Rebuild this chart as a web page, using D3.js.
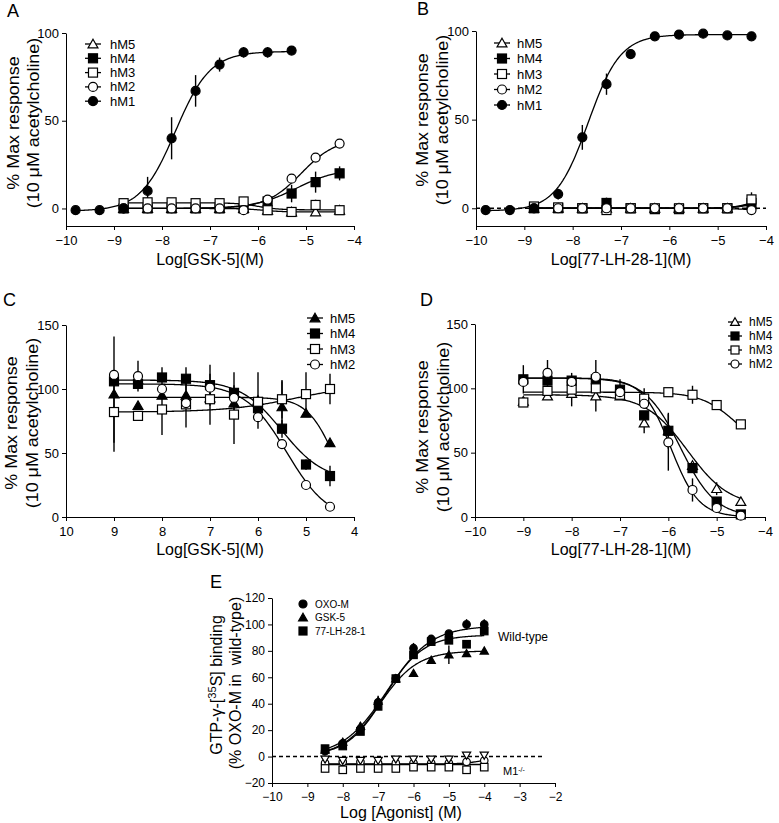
<!DOCTYPE html>
<html><head><meta charset="utf-8">
<script src="https://cdn.jsdelivr.net/npm/d3@7"></script>
<style>
body{margin:0;background:#fff}
svg{display:block}
text{font-family:'Liberation Sans',Arial,Helvetica,sans-serif;fill:#000}
</style>
</head><body>
<svg id="chart" width="779" height="823"></svg>
<script>
// ---------------- DATA ----------------
// Panel A : agonist GSK-5
const xA_M1 = [-9.8,-9.3,-8.8,-8.3,-7.8,-7.3,-6.8,-6.3,-5.8,-5.3];
const A_hM1 = [-1,-1,0,10,40,67,82,89,89,90];
const A_hM1_err = [0,0,0,8,12,9,4,3,3,1];
const xA = [-8.8,-8.3,-7.8,-7.3,-6.8,-6.3,-5.8,-5.3,-4.8,-4.3];
const A_hM2 = [0,0,0,0,0,-1,5,17,29,37];
const A_hM3 = [3,3.5,3.5,3,3,4,-1,-2,2,-1];
const A_hM3_err = [0,0,1,0,0,1,0,1,3,0];
const A_hM4 = [0,0,0,0,0,0,4,8.5,15,20];
const A_hM4_err = [0,0,0,0,0,0,0,5,6,4];
const A_hM5 = [0,0,0,0,0,0,-1,-2,-2,-1];
// fit parameters [value at low conc, value at high conc, logEC50, slope]
const fitA_hM1 = [-1.5,89.5,-7.72,1.2];
const fitA_hM2 = [0,40,-5.1,1.2];
const fitA_hM3 = [3.2,-0.8,-6.0,2];
const fitA_hM4 = [0,23,-5.2,1.0];
const fitA_hM5 = [0,-2,-5.9,2];

// Panel B : agonist 77-LH-28-1
const xB_M1 = [-9.8,-9.3,-8.8,-8.3,-7.8,-7.3,-6.8,-6.3,-5.8,-5.3,-4.8,-4.3];
const B_hM1 = [-1,-1,0,8,40,70,87,97,98,98.5,97.5,97];
const B_hM1_err = [0,0,0,3,7,6,2,1,1,1,1,1];
const xB = [-8.8,-8.3,-7.8,-7.3,-6.8,-6.3,-5.8,-5.3,-4.8,-4.3];
const B_hM2 = [0,0,0,0,0,0,0,0,0,-1];
const B_hM3 = [1,0.5,0,-1,0,0,0,0,0,5];
const B_hM3_err = [0,0,0,0,0,0,0,0,0,4];
const B_hM4 = [0,0,0,3,0,-0.5,-0.5,0,0,3];
const B_hM4_err = [0,0,0,3,0,0,0,0,0,0];
const B_hM5 = [0,0,0,0,0,0,0,0,0,2];
const fitB_hM1 = [-1.5,98,-7.68,1.3];
const fitB_hM2 = [0,-1,-4.5,2];
const fitB_hM3 = [0,8,-4.2,2];
const fitB_hM4 = [0,5,-4.3,2];
const fitB_hM5 = [0,4,-4.3,2];

// Panel C : antagonist GSK-5 (x shown as -log M)
const xC = [9,8.5,8,7.5,7,6.5,6,5.5,5,4.5];
const C_hM5 = [96,87,95,95,93,89,91,86,81,58];
const C_hM5_err = [45,0,0,0,0,0,22,20,0,0];
const C_hM4 = [106,104,109,108,103,97,85,69,41,32];
const C_hM4_err = [0,0,8,9,16,16,0,7,4,8];
const C_hM3 = [82,79,84,88,92,80,90,92,96,100];
const C_hM3_err = [24,0,20,18,20,23,0,15,17,12];
const C_hM2 = [111,110,100,89,101,93,78,57,25,8];
const C_hM2_err = [0,12,0,0,0,0,0,0,0,0];
const fitC_hM5 = [93.5,0,-4.4,1.5];
const fitC_hM4 = [107,28,-5.5,1.0];
const fitC_hM3 = [82,104,-5.2,0.6];
const fitC_hM2 = [104,-3,-5.4,1.0];

// Panel D : antagonist 77-LH-28-1
const xD = [-9,-8.5,-8,-7.5,-7,-6.5,-6,-5.5,-5,-4.5];
const D_hM5 = [90,94,96,94,94,73,67,40,22,12];
const D_hM5_err = [0,0,0,12,0,8,0,0,5,0];
const D_hM4 = [107,106,106,107,99,79,67,38,12,2];
const D_hM4_err = [11,0,0,0,8,0,14,0,0,0];
const D_hM3 = [89,98,99,100,95,92,97,95,87,72];
const D_hM3_err = [0,0,13,0,0,8,0,7,0,0];
const D_hM2 = [105,112,105,109,97,88,58,21,7,1];
const D_hM2_err = [0,10,0,13,0,0,22,9,0,0];
const fitD_hM5 = [95,8,-5.6,1.0];
const fitD_hM4 = [108,0,-5.75,1.2];
const fitD_hM3 = [97,50,-4.6,1.2];
const fitD_hM2 = [108,0,-5.95,1.5];

// Panel E : GTP-gamma-S binding
const xE = [-8.5,-8,-7.5,-7,-6.5,-6,-5.5,-5,-4.5,-4];
const E_OXO = [4,10,21,41,59,82,89,93,100,100];
const E_OXO_err = [0,0,0,5,0,4,3,0,4,4];
const E_GSK = [5,11,23,42,59,63,73,77,78,80];
const E_GSK_err = [0,0,3,0,0,0,0,7,0,0];
const E_77LH = [6,8,19,38,59,77,87,88,85,95];
const E_KO_circle = [-5,-4,-4,-5,-5,-5,-5,-5,-4,-3];
const E_KO_tri = [-2,-3,-3,-3,-2,-2,-2,-2,1,1];
const E_KO_square = [-9,-10,-9,-9,-9,-8,-8,-8,-10,-8];
const fitE_OXO = [0,99,-6.75,0.7];
const fitE_GSK = [0,80,-6.95,0.82];
const fitE_77LH = [0,92,-6.81,0.81];
const fitE_KO_circle = [-5.5,-2,-4.2,2];
const fitE_KO_square = [-6,-6,-6,1];

// ticks
const xTicksAB = [-10,-9,-8,-7,-6,-5,-4];
const yTicksAB = [0,50,100];
const xTicksC = [10,9,8,7,6,5,4];
const xTicksD = [-10,-9,-8,-7,-6,-5,-4];
const yTicksCD = [0,50,100,150];
const xTicksE = [-10,-9,-8,-7,-6,-5,-4,-3,-2];
const yTicksE = [-20,0,20,40,60,80,100,120];

// ---------------- DRAWING ----------------
const svg = d3.select('#chart');
svg.append('rect').attr('width',779).attr('height',823).attr('fill','#fff');

function hill(p, x){ const [a,b,c,h]=p; return a + (b-a)/(1+Math.pow(10,h*(c-x))); }

function marker(g, shape, filled, cx, cy, s){
  const h = s/2;
  let el;
  if(shape==='circle') el = g.append('circle').attr('cx',cx).attr('cy',cy).attr('r',h);
  else if(shape==='square') el = g.append('rect').attr('x',cx-h).attr('y',cy-h).attr('width',s).attr('height',s);
  else if(shape==='triangle') el = g.append('path').attr('d',`M${cx},${cy-h*1.05}L${cx+h*1.1},${cy+h*0.85}L${cx-h*1.1},${cy+h*0.85}Z`);
  else el = g.append('path').attr('d',`M${cx},${cy+h*1.05}L${cx+h*1.1},${cy-h*0.85}L${cx-h*1.1},${cy-h*0.85}Z`);
  el.attr('fill',filled?'#000':'#fff').attr('stroke','#000').attr('stroke-width',1.2);
}

function drawPanel(p){
  const g = svg.append('g');
  const x = d3.scaleLinear().domain(p.xDomain).range(p.xRange);
  const y = d3.scaleLinear().domain(p.yDomain).range(p.yRange);
  const ax = g.append('g').attr('transform',`translate(0,${p.yRange[0]})`)
    .call(d3.axisBottom(x).tickValues(p.xTicks).tickSize(4).tickSizeOuter(0).tickPadding(p.xPad||6).tickFormat(p.xFmt||d3.format('')));
  const ay = g.append('g').attr('transform',`translate(${p.xRange[0]},0)`)
    .call(d3.axisLeft(y).tickValues(p.yTicks).tickSize(4).tickSizeOuter(0).tickPadding(3).tickFormat(d3.format('')));
  [ax,ay].forEach(a=>{
    a.selectAll('text').style('font-size',p.tickFont+'px').style('font-family',"'Liberation Sans',Arial,sans-serif");
    a.selectAll('path,line').attr('stroke','#000').attr('stroke-width',1);
  });
  if(p.zeroLine){
    g.append('line').attr('x1',x(p.zeroLine[0])).attr('x2',x(p.zeroLine[1]))
      .attr('y1',y(0)).attr('y2',y(0)).attr('stroke','#000').attr('stroke-width',1.4).attr('stroke-dasharray','4,3');
  }
  const tf = p.fitX || (v=>v);
  p.series.forEach(s=>{
    if(s.fit){
      const lo = d3.min(s.x), hi = d3.max(s.x);
      const pts = d3.range(0,201).map(i=>lo+(hi-lo)*i/200);
      g.append('path').attr('d', d3.line().x(v=>x(v)).y(v=>y(hill(s.fit,tf(v))))(pts))
        .attr('fill','none').attr('stroke','#000').attr('stroke-width',1.3);
    }
  });
  p.series.forEach(s=>{
    if(s.err){
      s.x.forEach((xv,i)=>{
        const e=s.err[i]; if(!e) return;
        g.append('line').attr('x1',x(xv)).attr('x2',x(xv)).attr('y1',y(s.y[i]-e)).attr('y2',y(s.y[i]+e))
          .attr('stroke','#000').attr('stroke-width',1.4);
      });
    }
  });
  p.series.forEach(s=>{
    s.x.forEach((xv,i)=>marker(g,s.shape,s.filled,x(xv),y(s.y[i]),p.msize));
  });
  // legend
  if(p.legend){
    const L = p.legend;
    L.items.forEach((s,i)=>{
      const cy = L.y + i*L.dy;
      if(L.line) g.append('line').attr('x1',L.x-L.line).attr('x2',L.x+L.line).attr('y1',cy).attr('y2',cy).attr('stroke','#000').attr('stroke-width',1.3);
      marker(g,s.shape,s.filled,L.x,cy,L.msize);
      g.append('text').attr('x',L.tx).attr('y',cy).attr('dy','0.35em').style('font-size',L.font+'px').text(s.name);
    });
  }
  // panel letter
  g.append('text').attr('x',p.letter[1]).attr('y',p.letter[2]).style('font-size','18px').text(p.letter[0]);
  // x title
  g.append('text').attr('x',p.xTitle[1]).attr('y',p.xTitle[2]).attr('text-anchor','middle').style('font-size',p.titleFont+'px').text(p.xTitle[0]);
  // y titles
  p.yTitles.forEach(t=>{
    const tx = g.append('text').attr('transform',`translate(${t.x},${t.y}) rotate(-90) scale(${p.ystretch||1},1)`)
      .attr('text-anchor','middle').attr('dy','0.35em').style('font-size',p.titleFont+'px').style('white-space','pre');
    if(t.parts){ t.parts.forEach(pt=>{ const ts=tx.append('tspan').text(pt.t); if(pt.sup) ts.attr('baseline-shift','super').style('font-size','70%'); }); }
    else tx.text(t.text);
  });
  return {g,x,y};
}

const sA = [
  {name:'hM5',x:xA,y:A_hM5,shape:'triangle',filled:false,fit:fitA_hM5},
  {name:'hM4',x:xA,y:A_hM4,err:A_hM4_err,shape:'square',filled:true,fit:fitA_hM4},
  {name:'hM3',x:xA,y:A_hM3,err:A_hM3_err,shape:'square',filled:false,fit:fitA_hM3},
  {name:'hM2',x:xA,y:A_hM2,shape:'circle',filled:false,fit:fitA_hM2},
  {name:'hM1',x:xA_M1,y:A_hM1,err:A_hM1_err,shape:'circle',filled:true,fit:fitA_hM1}
];
drawPanel({xDomain:[-10,-4],xRange:[66,354],yDomain:[-10,100],yRange:[226,33],xTicks:xTicksAB,yTicks:yTicksAB,
  tickFont:13,titleFont:16,msize:9,series:sA,ystretch:1.12,
  legend:{items:sA,x:93,tx:110,y:44,dy:14.3,line:8,msize:9,font:13},
  letter:['A',7,17],xTitle:['Log[GSK-5](M)',210,265],
  yTitles:[{x:13,y:123,text:'% Max response'},{x:33,y:123,text:'(10 μM acetylcholine)'}]});

const sB = [
  {name:'hM5',x:xB,y:B_hM5,shape:'triangle',filled:false,fit:fitB_hM5},
  {name:'hM4',x:xB,y:B_hM4,err:B_hM4_err,shape:'square',filled:true,fit:fitB_hM4},
  {name:'hM3',x:xB,y:B_hM3,err:B_hM3_err,shape:'square',filled:false,fit:fitB_hM3},
  {name:'hM2',x:xB,y:B_hM2,shape:'circle',filled:false,fit:fitB_hM2},
  {name:'hM1',x:xB_M1,y:B_hM1,err:B_hM1_err,shape:'circle',filled:true,fit:fitB_hM1}
];
drawPanel({xDomain:[-10,-4],xRange:[476,766],yDomain:[-10,100],yRange:[226,31],xTicks:xTicksAB,yTicks:yTicksAB,
  tickFont:13,titleFont:16,msize:9,series:sB,zeroLine:[-10,-4],ystretch:1.12,
  legend:{items:sB,x:502,tx:517,y:43,dy:15.5,line:8,msize:9,font:13},
  letter:['B',417,15],xTitle:['Log[77-LH-28-1](M)',621,265],
  yTitles:[{x:422,y:120,text:'% Max response'},{x:442,y:120,text:'(10 μM acetylcholine)'}]});

const sC = [
  {name:'hM5',x:xC,y:C_hM5,err:C_hM5_err,shape:'triangle',filled:true,fit:fitC_hM5},
  {name:'hM4',x:xC,y:C_hM4,err:C_hM4_err,shape:'square',filled:true,fit:fitC_hM4},
  {name:'hM3',x:xC,y:C_hM3,err:C_hM3_err,shape:'square',filled:false,fit:fitC_hM3},
  {name:'hM2',x:xC,y:C_hM2,err:C_hM2_err,shape:'circle',filled:false,fit:fitC_hM2}
];
drawPanel({xDomain:[10,4],xRange:[66,354],yDomain:[0,150],yRange:[517,325],xTicks:xTicksC,yTicks:yTicksCD,
  tickFont:13,titleFont:16,msize:9,series:sC,fitX:v=>-v,ystretch:1.12,
  legend:{items:sC,x:315,tx:330,y:318,dy:15.5,line:8,msize:9,font:13},
  letter:['C',3,306],xTitle:['Log[GSK-5](M)',210,555],
  yTitles:[{x:11,y:423,text:'% Max response'},{x:32,y:423,text:'(10 μM acetylcholine)'}]});

const sD = [
  {name:'hM5',x:xD,y:D_hM5,err:D_hM5_err,shape:'triangle',filled:false,fit:fitD_hM5},
  {name:'hM4',x:xD,y:D_hM4,err:D_hM4_err,shape:'square',filled:true,fit:fitD_hM4},
  {name:'hM3',x:xD,y:D_hM3,err:D_hM3_err,shape:'square',filled:false,fit:fitD_hM3},
  {name:'hM2',x:xD,y:D_hM2,err:D_hM2_err,shape:'circle',filled:false,fit:fitD_hM2}
];
drawPanel({xDomain:[-10,-4],xRange:[475,765],yDomain:[0,150],yRange:[517,324],xTicks:xTicksD,yTicks:yTicksCD,
  tickFont:13,titleFont:16,msize:9,series:sD,ystretch:1.12,
  legend:{items:sD,x:735,tx:749,y:322,dy:14,line:7,msize:8,font:12},
  letter:['D',420,306],xTitle:['Log[77-LH-28-1](M)',621,555],
  yTitles:[{x:422,y:427,text:'% Max response'},{x:443,y:427,text:'(10 μM acetylcholine)'}]});

const sE = [
  {name:'OXO-M',x:xE,y:E_OXO,err:E_OXO_err,shape:'circle',filled:true,fit:fitE_OXO},
  {name:'GSK-5',x:xE,y:E_GSK,err:E_GSK_err,shape:'triangle',filled:true,fit:fitE_GSK},
  {name:'77-LH-28-1',x:xE,y:E_77LH,shape:'square',filled:true,fit:fitE_77LH},
  {name:'',x:xE,y:E_KO_circle,shape:'circle',filled:false,fit:fitE_KO_circle},
  {name:'',x:xE,y:E_KO_tri,shape:'tdown',filled:false},
  {name:'',x:xE,y:E_KO_square,shape:'square',filled:false,fit:fitE_KO_square}
];
const pe = drawPanel({xDomain:[-10,-2],xRange:[272,555],yDomain:[-20,120],yRange:[783,598],xTicks:xTicksE,yTicks:yTicksE,
  tickFont:12,titleFont:16,msize:7.5,series:sE,zeroLine:[-10,-2.3],xPad:5,
  legend:{items:sE.slice(0,3),x:303,tx:315,y:604,dy:13.5,line:0,msize:8,font:10},
  letter:['E',210,588],xTitle:['Log [Agonist] (M)',401,818],
  yTitles:[{x:216,y:685,parts:[{t:'GTP-γ-['},{t:'35',sup:true},{t:'S] binding'}]},{x:235,y:683,text:'(% OXO-M in  wild-type)'}]});
pe.g.append('text').attr('x',498).attr('y',641).style('font-size','12px').text('Wild-type');
const m1 = pe.g.append('text').attr('x',503).attr('y',775).style('font-size','11px');
m1.append('tspan').text('M1');
m1.append('tspan').attr('baseline-shift','super').style('font-size','7px').text('-/-');
</script>
</body></html>
